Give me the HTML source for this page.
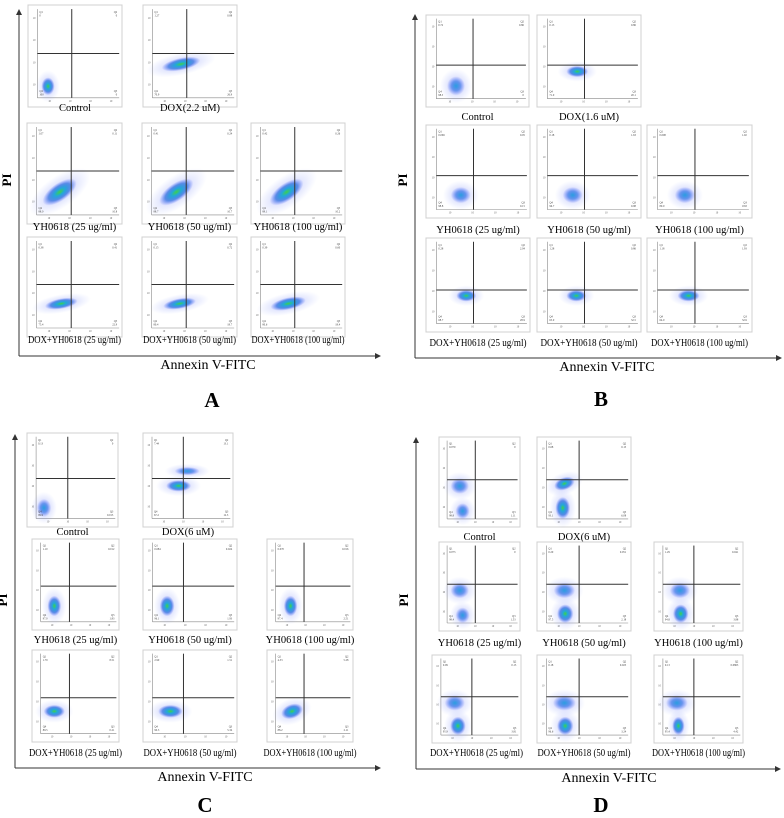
<!DOCTYPE html>
<html><head><meta charset="utf-8"><style>
html,body{margin:0;padding:0;background:#fff}
svg{display:block}
text{font-family:"Liberation Serif",serif}
</style></head><body>
<svg id="fig" width="784" height="818" viewBox="0 0 784 818" xmlns="http://www.w3.org/2000/svg">
<defs>
<radialGradient id="blob">
<stop offset="0" stop-color="#3fd04a"/>
<stop offset="0.3" stop-color="#23a8d8"/>
<stop offset="0.65" stop-color="#2f6fe0" stop-opacity="0.75"/>
<stop offset="1" stop-color="#5a6cff" stop-opacity="0"/>
</radialGradient>
<radialGradient id="blobb">
<stop offset="0" stop-color="#2a9fe0"/>
<stop offset="0.5" stop-color="#3a78e8" stop-opacity="0.7"/>
<stop offset="1" stop-color="#5a6cff" stop-opacity="0"/>
</radialGradient>
<radialGradient id="halo">
<stop offset="0" stop-color="#6a7cf0" stop-opacity="0.45"/>
<stop offset="1" stop-color="#8a9cff" stop-opacity="0"/>
</radialGradient>
<marker id="arr" markerWidth="6" markerHeight="6" refX="5" refY="3" orient="auto"><path d="M0,0 L6,3 L0,6 z" fill="#333"/></marker>
</defs>
</svg>
<script>
const panelNames = ['A','B','C','D'];
const labelsRow1 = [['Control','DOX(2.2 uM)'],['Control','DOX(1.6 uM)'],['Control','DOX(6 uM)'],['Control','DOX(6 uM)']];
const labelsYH = ['YH0618 (25 ug/ml)','YH0618 (50 ug/ml)','YH0618 (100 ug/ml)'];
const labelsDY = ['DOX+YH0618 (25 ug/ml)','DOX+YH0618 (50 ug/ml)','DOX+YH0618 (100 ug/ml)'];
const quadA = [['0','0','0','100'],['1.27','0.88','26.9','70.9'],['1.07','0.11','10.8','88.0'],['0.41','0.24','10.7','88.7'],['0.42','0.26','10.2','89.1'],['0.38','0.41','22.9','75.4'],['0.15','0.72','18.7','80.4'],['0.39','0.60','18.4','80.6']];
const quadB = [['0.72','0.86','0','98.5'],['0.13','0.86','20.1','71.9'],['0.069','0.05','0.15','98.8'],['0.18','1.63','0.98','96.7'],['0.098','1.02','18.8','80.0'],['0.28','2.04','28.9','68.7'],['1.28','0.86','32.5','65.0'],['1.18','1.93','32.9','64.0']];
const quadC = [['0.13','0','0.015','99.9'],['7.44','13.1','12.3','67.2'],['1.10','0.012','1.83','97.0'],['0.684','0.024','1.93','96.1'],['0.070','0.016','2.51','97.4'],['1.79','8.51','0.21','89.5'],['2.90','1.51','5.34','90.3'],['4.33','5.28','2.11','88.2']];
const quadD = [['0.079','0','1.11','98.8'],['0.68','0.15','6.08','93.1'],['0.073','0','1.53','98.4'],['0.29','0.051','2.18','97.5'],['1.29','0.041','3.88','94.8'],['0.09','0.15','3.81','95.9'],['0.18','0.023','3.24','96.6'],['0.13','0.0863','4.42','95.4']];
const gateA = [[0.42,0.5],[0.42,0.5],[0.42,0.5]];
const gateB = [[0.41,0.58],[0.41,0.58],[0.41,0.59]];
const gateC = [[0.4,0.51],[0.38,0.55],[0.38,0.55]];
const gateD = [[0.4,0.5],[0.4,0.5],[0.4,0.5]];
const blobsA = [[[0.13,0.87,0.08,0.1,0,0]],[[0.35,0.62,0.24,0.07,-12,0]],[[0.28,0.74,0.24,0.1,-35,0]],[[0.3,0.74,0.24,0.1,-35,0]],[[0.32,0.74,0.24,0.1,-35,0]],[[0.3,0.72,0.2,0.06,-10,0]],[[0.34,0.72,0.2,0.06,-10,0]],[[0.34,0.72,0.22,0.07,-12,0]]];
const blobsB = [[[0.22,0.84,0.1,0.12,0,1]],[[0.33,0.66,0.12,0.07,0,0]],[[0.27,0.82,0.11,0.1,0,1]],[[0.28,0.82,0.11,0.1,0,1]],[[0.3,0.82,0.11,0.1,0,1]],[[0.33,0.66,0.11,0.07,0,0]],[[0.32,0.66,0.11,0.07,0,0]],[[0.34,0.66,0.12,0.07,0,0]]];
const blobsC = [[[0.1,0.87,0.09,0.11,0,1]],[[0.34,0.6,0.16,0.07,0,0],[0.45,0.42,0.16,0.05,0,1]],[[0.18,0.8,0.09,0.13,0,0]],[[0.18,0.8,0.09,0.13,0,0]],[[0.2,0.8,0.09,0.13,0,0]],[[0.18,0.72,0.14,0.08,0,0]],[[0.22,0.72,0.15,0.08,0,0]],[[0.22,0.72,0.15,0.09,-20,0]]];
const blobsD = [[[0.18,0.58,0.13,0.1,0,1],[0.22,0.9,0.1,0.1,0,1]],[[0.22,0.55,0.13,0.08,-20,0],[0.2,0.86,0.09,0.14,0,0]],[[0.18,0.58,0.13,0.1,0,1],[0.22,0.9,0.1,0.1,0,1]],[[0.22,0.58,0.13,0.1,0,1],[0.23,0.88,0.1,0.12,0,0]],[[0.22,0.58,0.13,0.1,0,1],[0.23,0.88,0.1,0.12,0,0]],[[0.18,0.58,0.13,0.1,0,1],[0.22,0.88,0.1,0.12,0,0]],[[0.22,0.58,0.14,0.1,0,1],[0.23,0.88,0.1,0.12,0,0]],[[0.18,0.58,0.14,0.1,0,1],[0.2,0.88,0.08,0.12,0,0]]];

const frames = [
 {ax:19,top:10,ay:356,aend:380,tx:208,ty:369,lx:212,ly:413,py:180,
  boxes:[[28,5,94,102],[143,5,94,102],[27,123,95,101],[142,123,95,101],[251,123,94,101],[27,237,95,100],[142,237,95,100],[251,237,94,100]],
  lab:[111,230,343]},
 {ax:415,top:15,ay:358,aend:781,tx:607,ty:371,lx:601,ly:412,py:180,
  boxes:[[426,15,103,92],[537,15,104,92],[426,125,104,93],[537,125,104,93],[647,125,105,93],[426,238,104,94],[537,238,104,94],[647,238,105,94]],
  lab:[120,233,346]},
 {ax:15,top:435,ay:768,aend:380,tx:205,ty:781,lx:205,ly:818,py:600,
  boxes:[[27,433,91,94],[143,433,90,94],[32,539,87,91],[143,539,94,91],[267,539,86,91],[32,650,87,92],[143,650,94,92],[267,650,86,92]],
  lab:[535,643,756]},
 {ax:416,top:438,ay:769,aend:780,tx:609,ty:782,lx:601,ly:818,py:600,
  boxes:[[439,437,81,90],[537,437,94,90],[439,542,81,89],[537,542,94,89],[654,542,89,89],[432,655,89,88],[537,655,94,88],[654,655,89,88]],
  lab:[540,646,756]}
];
const quads=[quadA,quadB,quadC,quadD], gates=[gateA,gateB,gateC,gateD], blobs=[blobsA,blobsB,blobsC,blobsD];
const svg=document.getElementById('fig'), NS='http://www.w3.org/2000/svg';
function mk(tag,attrs,parent,txt){const e=document.createElementNS(NS,tag);for(const k in attrs)e.setAttribute(k,attrs[k]);if(txt!==undefined)e.textContent=txt;(parent||svg).appendChild(e);return e;}

frames.forEach((f,pi)=>{
  const g=mk('g',{});
  
  
  const ya=mk('line',{x1:f.ax,y1:f.ay,x2:f.ax,y2:f.top,stroke:'#333','stroke-width':1,'marker-end':'url(#arr)'},g);
  
  
  const xa=mk('line',{x1:f.ax,y1:f.ay,x2:f.aend,y2:f.ay,stroke:'#333','stroke-width':1,'marker-end':'url(#arr)'},g);
  
  
  const pt=mk('text',{x:f.ax-8,y:f.py,'font-size':13,'font-weight':'bold','text-anchor':'middle',transform:`rotate(-90 ${f.ax-8} ${f.py})`},g,'PI');
  
  
  const xt=mk('text',{x:f.tx,y:f.ty,'font-size':14,'text-anchor':'middle'},g,'Annexin V-FITC');
  
  
  const lt=mk('text',{x:f.lx,y:f.ly-6,'font-size':21,'font-weight':'bold','text-anchor':'middle'},g,panelNames[pi]);
  
  
  const labels=[labelsRow1[pi][0],labelsRow1[pi][1],...labelsYH,...labelsDY];
  f.boxes.forEach((b,i)=>{
    const row=i<2?0:(i<5?1:2);
    const pg=mk('g',{},g);
    
    
    const [bx,by,bw,bh]=b;
    const fr=mk('rect',{x:bx,y:by,width:bw,height:bh,fill:'#fff',stroke:'#d0d0d0','stroke-width':1},pg);
    
    
    const x0=bx+0.1*bw,x1=bx+bw-0.03*bw,y0=by+0.04*bh,y1=by+0.91*bh;
    const sx=v=>x0+v*(x1-x0), sy=v=>y0+v*(y1-y0);
    mk('line',{x1:x0,y1:y0,x2:x0,y2:y1,stroke:'#888','stroke-width':0.6},pg);
    mk('line',{x1:x0,y1:y1,x2:x1,y2:y1,stroke:'#888','stroke-width':0.6},pg);
    for(let k=0;k<4;k++){
      mk('text',{x:x0-2,y:sy(0.1+k*0.25)+1,'font-size':2.6,fill:'#555','text-anchor':'end'},pg,'10');
      mk('text',{x:sx(0.15+k*0.25),y:y1+4,'font-size':2.6,fill:'#555','text-anchor':'middle'},pg,'10');
    }
    blobs[pi][i].forEach(bl=>{
      const cx=sx(bl[0]),cy=sy(bl[1]),rx=bl[2]*(x1-x0),ry=bl[3]*(y1-y0);
      const h=mk('ellipse',{cx:cx,cy:cy,rx:rx*1.8,ry:ry*1.8,fill:'url(#halo)',transform:`rotate(${bl[4]} ${cx} ${cy})`},pg);
      
      
      const e=mk('ellipse',{cx:cx,cy:cy,rx:rx,ry:ry,fill:bl[5]?'url(#blobb)':'url(#blob)',transform:`rotate(${bl[4]} ${cx} ${cy})`},pg);
      
      
    });
    const [gv,gh]=gates[pi][row];
    const vl=mk('line',{x1:sx(gv),y1:y0,x2:sx(gv),y2:y1,stroke:'#333','stroke-width':1},pg);
    
    
    const hl=mk('line',{x1:x0,y1:sy(gh),x2:x1,y2:sy(gh),stroke:'#333','stroke-width':1},pg);
    
    
    const q=quads[pi][i];
    const qs=[[x0+2,y0+4,'start','Q1',q[0]],[x1-2,y0+4,'end','Q2',q[1]],[x1-2,y1-6,'end','Q3',q[2]],[x0+2,y1-6,'start','Q4',q[3]]];
    qs.forEach(s=>{
      const t=mk('text',{x:s[0],y:s[1],'font-size':2.8,fill:'#444','text-anchor':s[2]},pg,s[3]);
      
      
      const v=mk('text',{x:s[0],y:s[1]+3.5,'font-size':2.8,fill:'#444','text-anchor':s[2]},pg,s[4]);
      
      
    });
    const la={x:bx+bw/2,y:f.lab[row],'font-size':10.5,'text-anchor':'middle'};
    if(row===2){la['textLength']=pi===1?97:93;la['lengthAdjust']='spacingAndGlyphs';}
    const lb=mk('text',la,pg,labels[i]);
    
    
  });
});
</script>
</body></html>
